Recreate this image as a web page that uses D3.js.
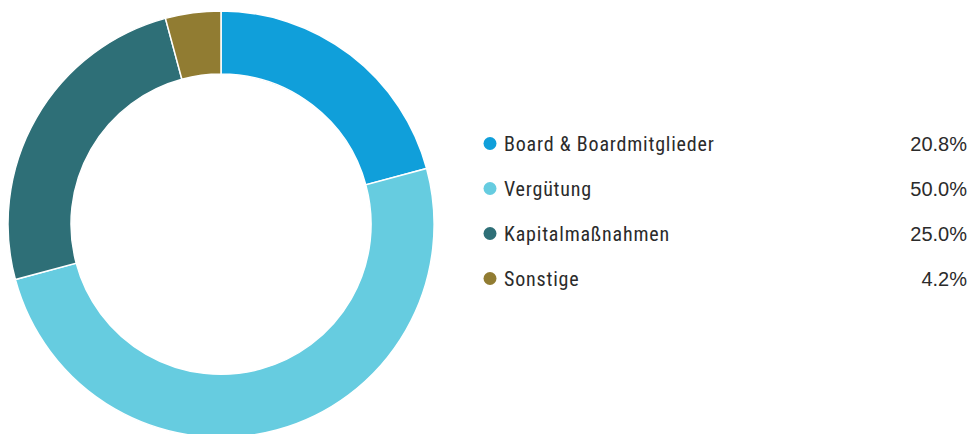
<!DOCTYPE html>
<html>
<head>
<meta charset="utf-8">
<script src="https://cdn.jsdelivr.net/npm/d3@7"></script>
<style>
  html, body { margin: 0; padding: 0; background: #fff; }
  svg { display: block; }
</style>
</head>
<body>
<svg id="chart" width="970" height="434"></svg>
<script>
const categories = ['Board & Boardmitglieder', 'Vergütung', 'Kapitalmaßnahmen', 'Sonstige'];
const values     = [20.8, 50.0, 25.0, 4.2];
const labels     = ['20.8%', '50.0%', '25.0%', '4.2%'];
const colors     = ['#109fda', '#66cce0', '#2e6f77', '#917c32'];

const svg = d3.select('#chart');
const cx = 221, cy = 224, outerR = 213, innerR = 150;

const pie = d3.pie().sort(null).value(d => d);
const arc = d3.arc().innerRadius(innerR).outerRadius(outerR);

svg.append('g')
    .attr('transform', `translate(${cx},${cy})`)
  .selectAll('path')
  .data(pie(values))
  .join('path')
    .attr('d', arc)
    .attr('fill', (d, i) => colors[i])
    .attr('stroke', '#fff')
    .attr('stroke-width', 1.5);

// legend
const rowY = d3.scaleBand().domain(d3.range(categories.length)).range([121, 301]);

const row = svg.append('g').selectAll('g')
  .data(categories)
  .join('g')
    .attr('transform', (d, i) => `translate(0,${rowY(i) + rowY.bandwidth() / 2})`);

row.append('circle')
    .attr('cx', 490).attr('cy', 0).attr('r', 6.5)
    .attr('fill', (d, i) => colors[i]);

row.append('text')
    .attr('x', 504).attr('y', 7)
    .style('font-family', '"Roboto Condensed", "Liberation Sans", sans-serif')
    .style('font-size', '20px')
    .style('letter-spacing', '0.8px')
    .style('fill', '#2b2b2b')
    .text(d => d);

row.append('text')
    .attr('x', 967).attr('y', 7)
    .attr('text-anchor', 'end')
    .style('font-family', '"Liberation Sans", Arial, sans-serif')
    .style('font-size', '20px')
    .style('fill', '#2b2b2b')
    .text((d, i) => labels[i]);
</script>
</body>
</html>
